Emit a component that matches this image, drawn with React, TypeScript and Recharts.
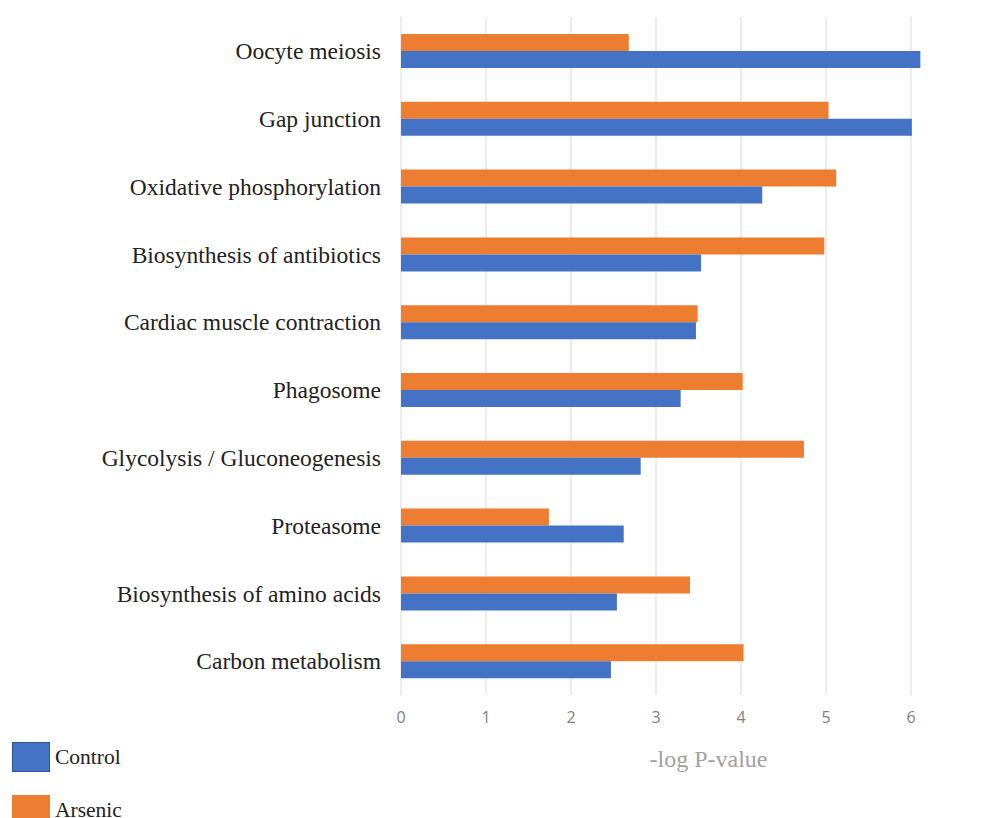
import { Bar, BarChart, CartesianGrid, XAxis, YAxis } from 'recharts'

const pathways = [
  'Oocyte meiosis',
  'Gap junction',
  'Oxidative phosphorylation',
  'Biosynthesis of antibiotics',
  'Cardiac muscle contraction',
  'Phagosome',
  'Glycolysis / Gluconeogenesis',
  'Proteasome',
  'Biosynthesis of amino acids',
  'Carbon metabolism',
]
const control = [6.11, 6.01, 4.25, 3.53, 3.47, 3.29, 2.82, 2.62, 2.54, 2.47]
const arsenic = [2.68, 5.03, 5.12, 4.98, 3.49, 4.02, 4.74, 1.74, 3.4, 4.03]
const xTicks = [0, 1, 2, 3, 4, 5, 6, 7]

const BLUE = '#4472C4'
const ORANGE = '#ED7D31'
const SERIF = "'Liberation Serif', 'Times New Roman', serif"

const data = pathways.map((name, i) => ({ name, control: control[i], arsenic: arsenic[i] }))

// Excel-style legend sitting below the plot on the far left
function LegendBox() {
  const items = [
    { label: 'Control', color: BLUE, border: '#2f5597', top: 742 },
    { label: 'Arsenic', color: ORANGE, border: ORANGE, top: 795 },
  ]
  return (
    <>
      {items.map((it) => (
        <div key={it.label} style={{ position: 'absolute', left: 12, top: it.top, display: 'flex', alignItems: 'center' }}>
          <div style={{ width: 38, height: 30, background: it.color, border: `1px solid ${it.border}`, boxSizing: 'border-box' }} />
          <span style={{ marginLeft: 5, fontSize: 21.5, color: '#222', fontFamily: SERIF }}>{it.label}</span>
        </div>
      ))}
    </>
  )
}

export default function App() {
  return (
    <div style={{ position: 'absolute', left: 0, top: 0, width: 992, height: 818, overflow: 'hidden', background: '#fff', fontFamily: SERIF }}>
      <BarChart
        width={1000}
        height={818}
        data={data}
        layout="vertical"
        margin={{ top: 17, right: 4, left: 0, bottom: 0 }}
        barGap={0}
        barSize={17}
      >
        <CartesianGrid stroke="#d9d9d9" horizontal={false} />
        <XAxis
          type="number"
          domain={[0, 7]}
          ticks={xTicks}
          interval={0}
          axisLine={false}
          tickLine={false}
          tickSize={0}
          tickMargin={17}
          height={123}
          tick={{ fill: '#7f7f7f', fontSize: 16, fontFamily: '"Open Sans", sans-serif' }}
          label={{
            value: '-log P-value',
            position: 'insideTop',
            offset: 55,
            dx: 10,
            fill: '#a0a0a0',
            fontSize: 24,
            fontFamily: SERIF,
          }}
        />
        <YAxis
          type="category"
          dataKey="name"
          width={401}
          axisLine={false}
          tickLine={false}
          tickSize={0}
          tickMargin={20}
          interval={0}
          tick={{ fill: '#222', fontSize: 23.5, fontFamily: SERIF }}
        />
        <Bar dataKey="arsenic" name="Arsenic" fill={ORANGE} isAnimationActive={false} />
        <Bar dataKey="control" name="Control" fill={BLUE} isAnimationActive={false} />
      </BarChart>
      <LegendBox />
    </div>
  )
}
